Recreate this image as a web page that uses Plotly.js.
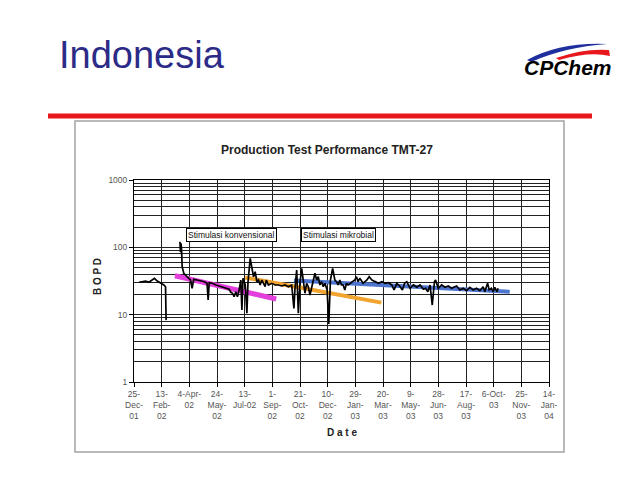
<!DOCTYPE html>
<html>
<head>
<meta charset="utf-8">
<script src="https://cdn.plot.ly/plotly-3.0.1.min.js"></script>
<style>html,body{margin:0;padding:0;background:#fff;}#chart{width:640px;height:480px;}</style>
</head>
<body>
<div id="chart"></div>
<script>
// Day numbers counted from 25-Dec-01
const tickDays = [0,50,100,150,200,250,300,350,400,450,500,550,600,650,700,750];
const tickLabels = ["25-<br>Dec-<br>01","13-<br>Feb-<br>02","4-Apr-<br>02","24-<br>May-<br>02","13-<br>Jul-02","1-<br>Sep-<br>02","21-<br>Oct-<br>02","10-<br>Dec-<br>02","29-<br>Jan-<br>03","20-<br>Mar-<br>03","9-<br>May-<br>03","28-<br>Jun-<br>03","17-<br>Aug-<br>03","6-Oct-<br>03","25-<br>Nov-<br>03","14-<br>Jan-<br>04"];

// Production test data (BOPD)
const days = [9,15,21,27,33,37,42,48,54,57,58,70,83,84,85,86,87,90,96,102,105,108,114,121,127,132,134,136,142,148,154,160,166,172,175,178,181,184,187,190,193,195,197,201,204,206,210,213,216,219,222,225,228,231,234,237,239,243,249,255,261,267,273,279,285,289,291,294,297,300,303,306,309,312,315,318,323,327,330,333,336,339,342,345,349,352,355,359,363,366,369,372,375,378,381,384,387,393,399,402,405,408,414,421,425,430,436,442,448,454,460,466,470,475,481,485,489,493,499,505,511,517,523,527,531,535,539,543,545,550,556,562,568,574,580,583,589,595,601,607,613,619,625,631,634,639,642,646,649,652,656,658];
const bopd = [30.3,30.9,31.6,30.3,32.7,34.7,31.6,29.8,27.6,26.0,8.3,null,121,85,115,91,51.6,41.2,36.6,32.7,24.6,33.5,32.7,31.6,30.9,29.2,16.5,29.8,29.2,27.6,26.7,26.0,24.6,23.8,21.5,20.8,18.5,21.9,18.5,23.3,32.7,11.7,34.7,28,10.5,30,68.7,46.1,36.6,43.5,30.9,32.7,27.6,32.7,29.2,26.0,32.7,27.6,29.2,27.6,27.6,26.7,27.6,26.0,27.6,12.4,25,46.1,10.5,30,48.8,29.2,20.8,29.2,26.0,19.6,29.2,41.2,32.7,36.6,27.6,30.9,26.0,29.2,23.3,7.3,32.7,48.8,32.7,30.9,27.6,32.7,27.6,27.6,23.3,29.2,27.6,29.8,32.7,36.6,30.9,34.7,29.2,32.7,36.6,32.7,30.9,29.2,30.9,29.2,29.8,27.6,23.3,29.2,26.0,23.3,29.2,30.9,24.6,27.6,25.5,27.6,23.8,24.6,21.9,27.6,13.9,30.9,32.7,24.6,27.6,25.5,26.7,24.6,26.0,26.7,23.3,24.6,22.7,25.5,23.3,24.6,22.7,26.0,21.9,29.2,23.3,24.6,21.9,25.5,21.9,24.6];

// Trend lines
const konvDays = [74,257];   const konvVals = [37.9,17.1];
const jul02Days = [201,447]; const jul02Vals = [35.6,15.1];
const mikDays = [289,679];   const mikVals = [32.2,21.9];

const yMajor = [1,10,100,1000];
const yMajorText = ["1","10","100","1000"];
const yMinor = [2,3,4,5,6,7,8,9,20,30,40,50,60,70,80,90,200,300,400,500,600,700,800,900];

const F = "Liberation Sans, Arial, sans-serif";

const traces = [
  {x: konvDays, y: konvVals, mode:'lines', line:{color:'#e23fdc', width:5}, hoverinfo:'skip', showlegend:false},
  {x: jul02Days, y: jul02Vals, mode:'lines', line:{color:'#f2a431', width:4}, hoverinfo:'skip', showlegend:false},
  {x: mikDays, y: mikVals, mode:'lines', line:{color:'#4d74cf', width:4}, hoverinfo:'skip', showlegend:false},
  {x: days, y: bopd, mode:'lines', line:{color:'#000', width:1.7}, connectgaps:false, showlegend:false}
];

const px = v => (v-134)/415;
const py = v => (382-v)/202;

const layout = {
  width:640, height:480,
  margin:{l:134, r:91, t:180, b:98},
  paper_bgcolor:'#fff', plot_bgcolor:'#fff',
  font:{family:F, color:'#333'},
  showlegend:false,
  xaxis:{
    type:'linear', range:[0,750], tickvals:tickDays, ticktext:tickLabels,
    showgrid:true, gridcolor:'#222', gridwidth:1,
    showline:true, linecolor:'#000', linewidth:1, mirror:true,
    ticks:'outside', ticklen:4, tickcolor:'#000',
    tickfont:{family:F, size:8.5, color:'#555'}, zeroline:false, fixedrange:true
  },
  yaxis:{
    type:'log', range:[0,3], tickvals:yMajor, ticktext:yMajorText,
    showgrid:true, gridcolor:'#222', gridwidth:1,
    showline:true, linecolor:'#000', linewidth:1, mirror:true,
    ticks:'outside', ticklen:4, tickcolor:'#000',
    tickfont:{family:F, size:8.5, color:'#555'}, zeroline:false,
    minor:{tickvals:yMinor, showgrid:true, gridcolor:'#222', gridwidth:1, ticks:''}
  },
  shapes:[
    {type:'rect', xref:'paper', yref:'paper', x0:px(75), x1:px(564), y0:py(452), y1:py(121), line:{color:'#a3a3a3', width:1.5}, layer:'below'},
    {type:'line', xref:'paper', yref:'paper', x0:px(48), x1:px(592), y0:py(116), y1:py(116), line:{color:'#e8171c', width:5}},
    {type:'path', xref:'paper', yref:'paper',
      path:'M '+px(527)+','+py(60)+' Q '+px(560)+','+py(42)+' '+px(607)+','+py(44)+' Q '+px(565)+','+py(47)+' '+px(531)+','+py(62)+' Z',
      fillcolor:'#1f2f9e', line:{width:0}},
    {type:'path', xref:'paper', yref:'paper',
      path:'M '+px(556)+','+py(58)+' Q '+px(585)+','+py(48)+' '+px(609)+','+py(50)+' L '+px(610)+','+py(56)+' Q '+px(590)+','+py(51)+' '+px(559)+','+py(60)+' Z',
      fillcolor:'#e8171c', line:{width:0}}
  ],
  annotations:[
    {xref:'paper', yref:'paper', x:px(57), y:py(55), xanchor:'left', yanchor:'middle', showarrow:false,
      text:'Indonesia', font:{family:F, size:38, color:'#2c2c88'}},
    {xref:'paper', yref:'paper', x:px(568), y:py(68), xanchor:'center', yanchor:'middle', showarrow:false,
      text:'<b><i>CPChem</i></b>', font:{family:'Liberation Sans Narrow, Liberation Sans, Arial', size:21, color:'#000'}},
    {xref:'paper', yref:'paper', x:px(327), y:py(150), xanchor:'center', yanchor:'middle', showarrow:false,
      text:'<b>Production Test Performance TMT-27</b>', font:{family:F, size:12, color:'#222'}},
    {xref:'paper', yref:'paper', x:px(97), y:py(277), xanchor:'center', yanchor:'middle', showarrow:false, textangle:-90,
      text:'<b>B O P D</b>', font:{family:F, size:10, color:'#222'}},
    {xref:'paper', yref:'paper', x:px(341.5), y:py(432), xanchor:'center', yanchor:'middle', showarrow:false,
      text:'<b>D a t e</b>', font:{family:F, size:10, color:'#222'}},
    {xref:'paper', yref:'paper', x:px(231.5), y:py(235), xanchor:'center', yanchor:'middle', showarrow:false,
      text:'Stimulasi konvensional', font:{family:F, size:8.5, color:'#111'},
      bgcolor:'#fff', bordercolor:'#000', borderwidth:1, borderpad:1},
    {xref:'paper', yref:'paper', x:px(338), y:py(235), xanchor:'center', yanchor:'middle', showarrow:false,
      text:'Stimulasi mikrobial', font:{family:F, size:8.5, color:'#111'},
      bgcolor:'#fff', bordercolor:'#000', borderwidth:1, borderpad:1}
  ]
};

Plotly.newPlot('chart', traces, layout, {displayModeBar:false, staticPlot:true});
</script>
</body>
</html>
